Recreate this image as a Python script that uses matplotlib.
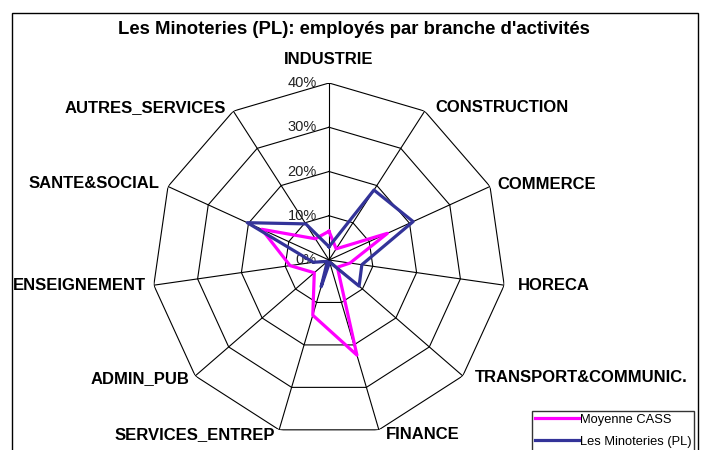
import numpy as np
import matplotlib
matplotlib.use('Agg')
import matplotlib.pyplot as plt
from matplotlib.patches import Rectangle

plt.rcParams['font.family'] = ['Liberation Sans', 'DejaVu Sans']

# data
branches = ['INDUSTRIE', 'CONSTRUCTION', 'COMMERCE', 'HORECA', 'TRANSPORT&COMMUNIC.',
            'FINANCE', 'SERVICES_ENTREP', 'ADMIN_PUB', 'ENSEIGNEMENT', 'SANTE&SOCIAL',
            'AUTRES_SERVICES']
moyenne_cass = [6.5, 3.0, 14.5, 4.8, 2.5, 22.4, 13.0, 4.4, 8.9, 16.7, 5.7]
minoteries = [3.0, 18.8, 20.9, 7.5, 9.0, 0.5, 6.3, 0.5, 3.6, 20.3, 9.7]
ticks = [0, 10, 20, 30, 40]
tick_labels = ['0%', '10%', '20%', '30%', '40%']

W, H = 706, 450
fig = plt.figure(figsize=(W / 100, H / 100), dpi=100)

# polar axes centred at (329, 260) px, radius 177 px
cx, cy, R = 329, 260, 177
ax = fig.add_axes([(cx - R) / W, (H - cy - R) / H, 2 * R / W, 2 * R / H], projection='polar')
ax.set_theta_zero_location('N')
ax.set_theta_direction(-1)
ax.set_ylim(0, 40)
ax.grid(False)
ax.spines['polar'].set_visible(False)
ax.set_xticks([])
ax.set_yticks([])
ax.patch.set_visible(False)

n = len(branches)
theta = np.arange(n) * 2 * np.pi / n
theta_c = np.append(theta, theta[0])

# polygon rings + spokes
for t in ticks[1:]:
    ax.plot(theta_c, [t] * (n + 1), color='black', lw=0.8, zorder=1)
for th in theta:
    ax.plot([th, th], [0, ticks[-1]], color='black', lw=0.8, zorder=1)

# radial labels
for t, lab in zip(ticks, tick_labels):
    ax.annotate(lab, xy=(0, t), xytext=(-12, 0), textcoords='offset pixels',
                ha='right', va='center', fontsize=10.5, color='#222222')

# series
ax.plot(theta_c, moyenne_cass + moyenne_cass[:1], color='#FF00FF', lw=2.3,
        label='Moyenne CASS', zorder=3)
ax.plot(theta_c, minoteries + minoteries[:1], color='#333399', lw=2.3,
        label='Les Minoteries (PL)', zorder=4)

# category labels
offsets = [(0, 23, 'center'), (11, 4, 'left'), (7, 2, 'left'), (14, 0, 'left'),
           (12, -2, 'left'), (7, -5, 'left'), (-4, -5, 'right'), (-6, -3, 'right'),
           (-8, 0, 'right'), (-8, 3, 'right'), (-7, 4, 'right')]
for th, lab, (dx, dy, ha) in zip(theta, branches, offsets):
    ax.annotate(lab, xy=(th, ticks[-1]), xytext=(dx, dy), textcoords='offset pixels',
                ha=ha, va='center', fontsize=12, fontweight='bold')

fig.text(354 / W, 1 - 29 / H, "Les Minoteries (PL): employés par branche d'activités",
         ha='center', va='center', fontsize=13.3, fontweight='bold')

# outer frame
fig.add_artist(Rectangle((12 / W, -5 / H), 686 / W, (H - 13 + 5) / H,
                         transform=fig.transFigure, fill=False, lw=1, color='black'))

leg = fig.legend(loc='upper left', bbox_to_anchor=(532 / W, 1 - 411 / H),
                 fontsize=9.3, frameon=True, fancybox=False, edgecolor='black',
                 borderpad=0.2, handlelength=3.4, handletextpad=0.1, labelspacing=0.8,
                 borderaxespad=0)
leg.get_frame().set_linewidth(1)

fig.savefig('out.png', dpi=100)
